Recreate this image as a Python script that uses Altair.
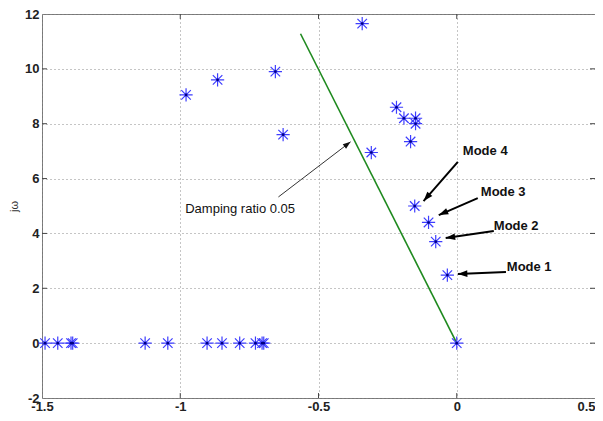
import math
import altair as alt
import pandas as pd

# ---------------- data ----------------
# real (non-oscillatory) eigenvalues on the real axis
real_x = [-1.489, -1.443, -1.395, -1.389, -1.127, -1.045, -0.903, -0.849,
          -0.785, -0.728, -0.704, -0.698, 0.0]
# complex eigenvalues (upper half plane)
cplx_x = [-0.979, -0.865, -0.656, -0.628, -0.342, -0.309, -0.218, -0.191,
          -0.149, -0.149, -0.167, -0.152, -0.102, -0.076, -0.034]
cplx_y = [9.05, 9.6, 9.9, 7.6, 11.65, 6.95, 8.6, 8.2,
          8.2, 8.0, 7.35, 5.0, 4.4, 3.7, 2.48]

# damping-ratio 0.05 line
damp_x = [0.0, -0.565]
damp_y = [0.0, 11.28]

# annotations
ann_text = ["Damping ratio 0.05", "Mode 4", "Mode 3", "Mode 2", "Mode 1"]
ann_bold = [False, True, True, True, True]
ann_tx = [-0.982, 0.022, 0.087, 0.134, 0.181]
ann_ty = [4.88, 7.01, 5.51, 4.27, 2.77]
arr_x1 = [-0.645, 0.004, 0.076, 0.134, 0.178]
arr_y1 = [5.33, 6.61, 5.29, 4.09, 2.59]
arr_x2 = [-0.384, -0.120, -0.065, -0.040, 0.004]
arr_y2 = [7.34, 5.18, 4.67, 3.83, 2.52]

x_ticks = [-1.5, -1.0, -0.5, 0.0, 0.5]
y_ticks = [-2, 0, 2, 4, 6, 8, 10, 12]
XDOM = [-1.5, 0.5]
YDOM = [-2, 12]

# ---------------- layout ----------------
W, H = 553, 384
px_x = W / (XDOM[1] - XDOM[0])
px_y = H / (YDOM[1] - YDOM[0])

FONT = "Liberation Sans"
xs = alt.Scale(domain=XDOM, nice=False, zero=False)
ys = alt.Scale(domain=YDOM, nice=False, zero=False)

xaxis = alt.Axis(values=x_ticks, labelExpr="'' + datum.value", title=None,
                 grid=True, ticks=False, domain=False, labelPadding=2,
                 labelAlign=alt.condition("datum.value == 0.5",
                                          alt.value("right"), alt.value("center")),
                 labelFont=FONT, labelFontSize=13, labelFontWeight="bold",
                 labelColor="#222",
                 gridDash=[1, 3], gridColor="#8a8a8a", gridWidth=1)
yaxis = alt.Axis(values=y_ticks, labelExpr="'' + datum.value", title="jω",
                 grid=True, ticks=False, domain=False, labelPadding=3,
                 labelFont=FONT, labelFontSize=13, labelFontWeight="bold",
                 labelColor="#222",
                 titleFont=FONT, titleFontSize=11, titleFontWeight="normal",
                 titleColor="#333", titlePadding=5,
                 gridDash=[1, 3], gridColor="#8a8a8a", gridWidth=1)


def X(f):
    return alt.X(f, type="quantitative", scale=xs, axis=xaxis)


def Y(f):
    return alt.Y(f, type="quantitative", scale=ys, axis=yaxis)


pts = pd.DataFrame({"x": real_x + cplx_x,
                    "y": [0.0] * len(real_x) + cplx_y})
damp = pd.DataFrame({"x": damp_x, "y": damp_y})
txt = pd.DataFrame({"x": ann_tx, "y": ann_ty, "t": ann_text, "b": ann_bold})

angles = []
for a, b, c, d in zip(arr_x1, arr_y1, arr_x2, arr_y2):
    dxp = (c - a) * px_x
    dyp = -(d - b) * px_y
    angles.append(math.degrees(math.atan2(dxp, -dyp)) % 360)
arr = pd.DataFrame({"x": arr_x1, "y": arr_y1, "x2": arr_x2, "y2": arr_y2,
                    "angle": angles, "kind": ["damp"] + ["mode"] * 4})

# inward tick marks on all four sides
tl_x = 0.018
tl_y = 0.18
tick_rows = []
for v in x_ticks[1:-1]:
    tick_rows.append({"x": v, "y": YDOM[0], "x2": v, "y2": YDOM[0] + tl_y})
    tick_rows.append({"x": v, "y": YDOM[1], "x2": v, "y2": YDOM[1] - tl_y})
for v in y_ticks[1:-1]:
    tick_rows.append({"x": XDOM[0], "y": v, "x2": XDOM[0] + tl_x, "y2": v})
    tick_rows.append({"x": XDOM[1], "y": v, "x2": XDOM[1] - tl_x, "y2": v})
ticks = pd.DataFrame(tick_rows)

ASTER = "M-1,0L1,0M0,-1L0,1M-0.72,-0.72L0.72,0.72M-0.72,0.72L0.72,-0.72"
HEAD = "M0,0L-0.7,2L0.7,2Z"

tick_layer = alt.Chart(ticks).mark_rule(color="#444", strokeWidth=1).encode(
    x=X("x"), y=Y("y"), x2="x2", y2="y2")

line_layer = alt.Chart(damp).mark_line(color="#1f8a1f", strokeWidth=1.6).encode(
    x=X("x"), y=Y("y"), order="y:Q")

star_layer = alt.Chart(pts).mark_point(
    shape=ASTER, filled=False, color="#3d3dff", strokeWidth=1.2,
    size=175, opacity=1).encode(x=X("x"), y=Y("y"))

dot_layer = alt.Chart(pts).mark_circle(size=7, color="#000080", opacity=1).encode(
    x=X("x"), y=Y("y"))

arr_damp = alt.Chart(arr).transform_filter("datum.kind == 'damp'")
arr_mode = alt.Chart(arr).transform_filter("datum.kind == 'mode'")

damp_rule = arr_damp.mark_rule(color="#333", strokeWidth=1).encode(
    x=X("x"), y=Y("y"), x2="x2", y2="y2")
mode_rule = arr_mode.mark_rule(color="#000", strokeWidth=2).encode(
    x=X("x"), y=Y("y"), x2="x2", y2="y2")
damp_head = arr_damp.mark_point(shape=HEAD, filled=True, color="#111",
                                size=60, opacity=1, strokeWidth=0).encode(
    x=X("x2"), y=Y("y2"), angle=alt.Angle("angle:Q", scale=None))
mode_head = arr_mode.mark_point(shape=HEAD, filled=True, color="#000",
                                size=90, opacity=1, strokeWidth=0).encode(
    x=X("x2"), y=Y("y2"), angle=alt.Angle("angle:Q", scale=None))

txt_base = alt.Chart(txt)
text_reg = txt_base.transform_filter("!datum.b").mark_text(
    align="left", baseline="middle", font=FONT, fontSize=13,
    color="#111").encode(x=X("x"), y=Y("y"), text="t:N")
text_bold = txt_base.transform_filter("datum.b").mark_text(
    align="left", baseline="middle", font=FONT, fontSize=13,
    fontWeight="bold", color="#111").encode(x=X("x"), y=Y("y"), text="t:N")

chart = alt.layer(
    tick_layer, line_layer, star_layer, dot_layer,
    damp_rule, mode_rule, damp_head, mode_head, text_reg, text_bold
).properties(
    width=W, height=H,
    autosize=alt.AutoSizeParams(type="none"),
    padding={"left": 34, "top": 6, "right": 0, "bottom": 15},
    background="white",
).configure_view(stroke="#777", strokeWidth=1)

chart.save("out.html", embed_options={"renderer": "svg", "actions": False})
